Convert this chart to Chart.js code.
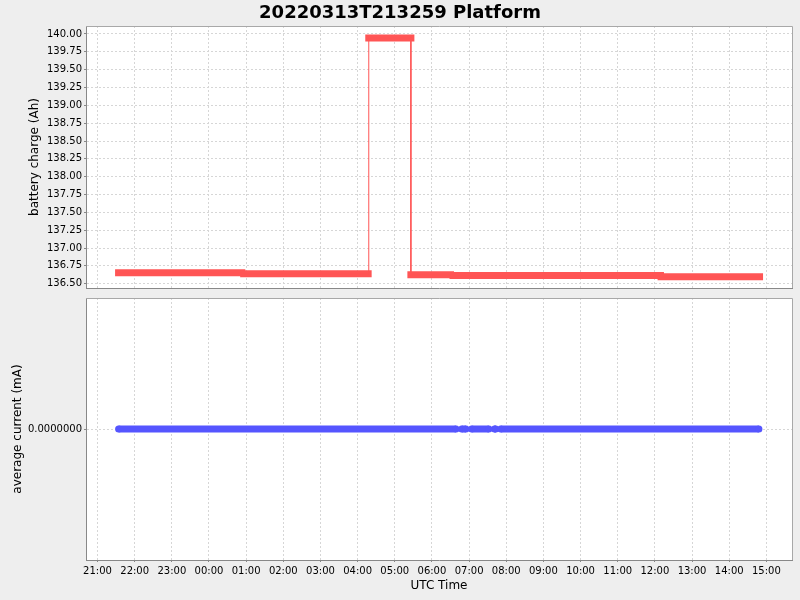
<!DOCTYPE html>
<html>
<head>
<meta charset="utf-8">
<title>20220313T213259 Platform</title>
<script src="https://cdn.jsdelivr.net/npm/chart.js@4.4.1/dist/chart.umd.min.js"></script>
<style>
  html, body { margin: 0; padding: 0; background: #eeeeee; }
  #wrap { position: relative; width: 800px; height: 600px; overflow: hidden; }
  #title {
    position: absolute; left: 0; top: 0; width: 800px;
    text-align: center; color: #000;
    font: bold 18px "DejaVu Sans", sans-serif; line-height: 24px;
  }
  #chargeChart { position: absolute; left: 0; top: 0; }
  #currentChart { position: absolute; left: 0; top: 293px; }
</style>
</head>
<body>
<div id="wrap">
  <canvas id="chargeChart" width="800" height="293"></canvas>
  <canvas id="currentChart" width="800" height="307"></canvas>
  <div id="title">20220313T213259 Platform</div>
</div>
<script>
    const xTicks = ["21:00", "22:00", "23:00", "00:00", "01:00", "02:00", "03:00",
      "04:00", "05:00", "06:00", "07:00", "08:00", "09:00", "10:00", "11:00",
      "12:00", "13:00", "14:00", "15:00"];

    // battery charge: runs of equal readings (start, end, value)
    const chargeStart = ["21:34", "00:56", "04:18", "05:26", "06:34", "12:10"];
    const chargeEnd = ["00:53", "04:17", "05:26", "06:30", "12:09", "14:49"];
    const chargeValue = [136.654, 136.640, 139.944, 136.626, 136.614, 136.597];
    const chargeTicks = [136.50, 136.75, 137.00, 137.25, 137.50, 137.75, 138.00,
      138.25, 138.50, 138.75, 139.00, 139.25, 139.50, 139.75, 140.00];

    // average current: runs of readings
    const currentStart = ["21:34", "06:48", "07:04", "07:41", "07:51"];
    const currentEnd = ["06:39", "06:55", "07:32", "07:43", "14:48"];
    const currentValue = [0, 0, 0, 0, 0];
    const currentTicks = [0];

    const FONT = "'DejaVu Sans', sans-serif";
    const RED = '#ff5555';
    const BLUE = '#5555ff';
    const GRID = '#d6d6d6';
    const AXIS = '#888888';
    const X_MIN = -0.31;
    const X_MAX = 18.69;

    function hoursFrom21(label) {
      const parts = label.split(':').map(Number);
      let h = parts[0] + parts[1] / 60 - 21;
      if (h < -1) h += 24;
      return h;
    }

    function runPoints(starts, ends, values) {
      const pts = [];
      starts.forEach((s, i) => {
        pts.push({ x: hoursFrom21(s), y: values[i] });
        pts.push({ x: hoursFrom21(ends[i]), y: values[i] });
        pts.push({ x: hoursFrom21(ends[i]), y: null });
      });
      return pts;
    }

    function pathPoints(starts, ends, values) {
      const pts = [];
      starts.forEach((s, i) => {
        pts.push({ x: hoursFrom21(s), y: values[i] });
        pts.push({ x: hoursFrom21(ends[i]), y: values[i] });
      });
      return pts;
    }

    const plotAreaPlugin = {
      id: 'plotArea',
      beforeDraw(chart) {
        const a = chart.chartArea;
        const ctx = chart.ctx;
        ctx.save();
        ctx.fillStyle = '#ffffff';
        ctx.fillRect(a.left, a.top, a.right - a.left, a.bottom - a.top);
        ctx.restore();
      },
      beforeDatasetsDraw(chart) {
        const a = chart.chartArea;
        const ctx = chart.ctx;
        ctx.save();
        ctx.strokeStyle = '#a8a8a8';
        ctx.lineWidth = 1;
        ctx.beginPath();
        ctx.moveTo(Math.round(a.left), Math.round(a.top) + 0.5);
        ctx.lineTo(Math.round(a.right) + 0.5, Math.round(a.top) + 0.5);
        ctx.lineTo(Math.round(a.right) + 0.5, Math.round(a.bottom));
        ctx.stroke();
        ctx.restore();
      }
    };

    function noPadding(s) {
      s.paddingTop = 0;
      s.paddingBottom = 0;
      s.paddingLeft = 0;
      s.paddingRight = 0;
    }

    function xScale(showLabels) {
      return {
        type: 'linear',
        min: X_MIN,
        max: X_MAX,
        afterBuildTicks: s => { s.ticks = xTicks.map(t => ({ value: hoursFrom21(t) })); },
        afterFit: s => { s.height = showLabels ? 40 : 0; noPadding(s); },
        grid: { color: GRID, drawTicks: showLabels, tickLength: 2, tickColor: AXIS },
        border: { color: AXIS, dash: [2, 2] },
        ticks: {
          display: showLabels,
          autoSkip: false,
          maxRotation: 0,
          padding: 3,
          color: '#000',
          font: { family: FONT, size: 10 },
          callback: (v, i) => xTicks[i]
        },
        title: {
          display: showLabels,
          text: 'UTC Time',
          color: '#000',
          font: { family: FONT, size: 12 },
          padding: { top: 0, bottom: 7 }
        }
      };
    }

    function yScale(opts) {
      return {
        type: 'linear',
        min: opts.min,
        max: opts.max,
        afterBuildTicks: s => { s.ticks = opts.ticks.map(v => ({ value: v })); },
        afterFit: s => { s.width = opts.width; noPadding(s); },
        grid: { color: GRID, tickLength: 2, tickColor: AXIS },
        border: { color: AXIS, dash: [2, 2] },
        ticks: {
          padding: 2,
          color: '#000',
          font: { family: FONT, size: 10 },
          callback: v => v.toFixed(opts.decimals)
        },
        title: {
          display: true,
          text: opts.label,
          color: '#000',
          font: { family: FONT, size: 12 },
          padding: 0
        }
      };
    }

    function initChargeChart() {
      const ctx = document.getElementById('chargeChart').getContext('2d');
      new Chart(ctx, {
        type: 'line',
        data: {
          datasets: [{
            data: pathPoints(chargeStart, chargeEnd, chargeValue),
            borderColor: RED,
            borderWidth: 1,
            pointRadius: 0,
            tension: 0
          }, {
            data: runPoints(chargeStart, chargeEnd, chargeValue),
            borderColor: RED,
            borderWidth: 7,
            borderCapStyle: 'square',
            pointRadius: 0,
            spanGaps: false,
            tension: 0
          }]
        },
        options: {
          responsive: false,
          animation: false,
          layout: { padding: { left: 28, right: 8, top: 26, bottom: 5 } },
          plugins: { legend: { display: false }, tooltip: { enabled: false } },
          scales: {
            x: xScale(false),
            y: yScale({ min: 136.44, max: 140.112, ticks: chargeTicks, width: 58,
              decimals: 2, label: 'battery charge (Ah)' })
          }
        },
        plugins: [plotAreaPlugin]
      });
    }

    function initCurrentChart() {
      const ctx = document.getElementById('currentChart').getContext('2d');
      new Chart(ctx, {
        type: 'line',
        data: {
          datasets: [{
            data: runPoints(currentStart, currentEnd, currentValue),
            borderColor: BLUE,
            borderWidth: 7,
            borderCapStyle: 'butt',
            pointRadius: 3.5,
            pointBorderWidth: 0,
            pointBackgroundColor: BLUE,
            spanGaps: false,
            tension: 0
          }]
        },
        options: {
          responsive: false,
          animation: false,
          layout: { padding: { left: 11, right: 8, top: 5, bottom: 0 } },
          plugins: { legend: { display: false }, tooltip: { enabled: false } },
          scales: {
            x: xScale(true),
            y: yScale({ min: -1, max: 1, ticks: currentTicks, width: 75,
              decimals: 7, label: 'average current (mA)' })
          }
        },
        plugins: [plotAreaPlugin]
      });
    }

    document.addEventListener('DOMContentLoaded', () => {
      initChargeChart();
      initCurrentChart();
    });
</script>
</body>
</html>
